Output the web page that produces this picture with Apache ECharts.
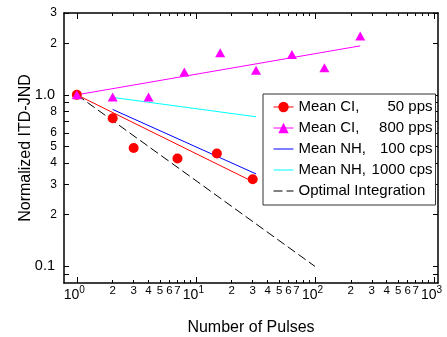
<!DOCTYPE html>
<html><head><meta charset="utf-8">
<script src="https://cdn.jsdelivr.net/npm/echarts@6/dist/echarts.min.js"></script>
<style>html,body{margin:0;padding:0;background:#fff}#c{width:447px;height:337px}</style>
</head><body><div id="c"></div>
<script>
// ---- data ----
const ci50X = [1, 2, 3, 7, 15, 30];
const ci50Y = [1.0, 0.73, 0.49, 0.425, 0.455, 0.322];
const ci800X = [1, 2, 4, 8, 16, 32, 64, 120, 240];
const ci800Y = [1.0, 0.973, 0.973, 1.36, 1.76, 1.39, 1.72, 1.44, 2.2];
const fit50X = [1, 30];
const fit50Y = [1.0, 0.312];
const fit800X = [1, 240];
const fit800Y = [1.0, 1.93];
const nh100X = [2, 32];
const nh100Y = [0.822, 0.346];
const nh1000X = [2, 32];
const nh1000Y = [0.966, 0.745];
const optX = [1, 100];
const optY = [1.0, 0.1];

const seriesNames = ['Mean CI, 50 pps', 'Mean CI, 800 pps', 'Mean NH, 100 cps', 'Mean NH, 1000 cps', 'Optimal Integration'];

const xMajorTicks = [1, 10, 100, 1000];
const xMinorTicks = [2, 3, 4, 5, 6, 7, 8, 9, 20, 30, 40, 50, 60, 70, 80, 90, 200, 300, 400, 500, 600, 700, 800, 900];
const xLabelValues = [1, 2, 3, 4, 5, 6, 7, 10, 20, 30, 40, 50, 60, 70, 100, 200, 300, 400, 500, 600, 700, 1000];
const xLabelTexts = ['10^0', '2', '3', '4', '5', '6', '7', '10^1', '2', '3', '4', '5', '6', '7', '10^2', '2', '3', '4', '5', '6', '7', '10^3'];
const yTickValues = [0.09, 0.1, 0.2, 0.3, 0.4, 0.5, 0.6, 0.7, 0.8, 0.9, 1, 2, 3];
const yLabelValues = [0.1, 0.2, 0.3, 0.4, 0.5, 0.6, 0.8, 1, 2, 3];
const yLabelTexts = ['0.1', '2', '3', '4', '5', '6', '8', '1.0', '2', '3'];

// ---- helpers ----
const FONT = '"Liberation Sans", Arial, Helvetica, sans-serif';
const zip = (xs, ys) => xs.map((x, i) => [x, ys[i]]);
const findIdx = (arr, v) => arr.findIndex(t => Math.abs(Math.log10(t) - Math.log10(v)) < 1e-6);

function xLabel(v) {
  const i = findIdx(xLabelValues, v);
  if (i < 0) return '';
  const t = xLabelTexts[i];
  if (t.indexOf('^') >= 0) {
    const p = t.split('^');
    return '{b|' + p[0] + '}{s|' + p[1] + '}';
  }
  return '{m|' + t + '}';
}
function yLabel(v) {
  const i = findIdx(yLabelValues, v);
  if (i < 0) return '';
  const t = yLabelTexts[i];
  return t.indexOf('.') >= 0 ? '{big|' + t + '}' : '{sm|' + t + '}';
}

const AXIS_LINE = { show: true, lineStyle: { color: '#000', width: 1.5 } };
const NO_LINE = { show: false };
const tick = (vals, len) => ({ show: true, inside: true, length: len, customValues: vals, lineStyle: { color: '#000', width: 1 } });
const XMIN = 0.78, XMAX = 1080, YMIN = 0.08, YMAX = 3;

const baseX = (pos, line, tk, label) => ({
  type: 'log', position: pos, min: XMIN, max: XMAX, gridIndex: 0,
  axisLine: line, axisTick: tk, splitLine: { show: false },
  axisLabel: label || { show: false }
});
const baseY = (pos, line, tk, label) => ({
  type: 'log', position: pos, min: YMIN, max: YMAX, gridIndex: 0,
  axisLine: line, axisTick: tk, splitLine: { show: false },
  axisLabel: label || { show: false }
});

const xMain = baseX('bottom', AXIS_LINE, tick(xMinorTicks, 3), {
  show: true, customValues: xLabelValues, interval: 0, margin: 2, formatter: xLabel,
  color: '#000', fontFamily: FONT,
  rich: {
    b: { fontSize: 14, lineHeight: 21, fontFamily: FONT, color: '#000' },
    s: { fontSize: 10, lineHeight: 11, verticalAlign: 'top', padding: [0, 5, 0, 0], fontFamily: FONT, color: '#000' },
    m: { fontSize: 11.5, lineHeight: 11, verticalAlign: 'top', fontFamily: FONT, color: '#000' }
  }
});
xMain.name = 'Number of Pulses';
xMain.nameLocation = 'middle';
xMain.nameGap = 37;
xMain.nameMoveOverlap = false;
xMain.nameTextStyle = { fontSize: 16, fontFamily: FONT, color: '#000' };

const yMain = baseY('left', AXIS_LINE, tick(yTickValues, 5), {
  show: true, customValues: yLabelValues, interval: 0, margin: 7, formatter: yLabel,
  color: '#000', fontFamily: FONT,
  rich: {
    big: { fontSize: 14.5, fontFamily: FONT, color: '#000', padding: [0, 2, 0, 0] },
    sm: { fontSize: 12, fontFamily: FONT, color: '#000' }
  }
});
yMain.name = 'Normalized ITD-JND';
yMain.nameLocation = 'middle';
yMain.nameGap = 30;
yMain.nameMoveOverlap = false;
yMain.nameTextStyle = { fontSize: 16, fontFamily: FONT, color: '#000' };

function legendFmt(name) {
  const k = name.indexOf(', ');
  if (k < 0) return '{c|' + name + '}';
  return '{a|' + name.slice(0, k + 1) + '}{b|' + name.slice(k + 2) + '}';
}

const lineSeries = (name, xs, ys, color, symbol, type) => ({
  name: name, type: 'line', xAxisIndex: 0, yAxisIndex: 0,
  data: zip(xs, ys), symbol: symbol, showSymbol: false, symbolSize: 10,
  itemStyle: { color: color },
  lineStyle: { color: color, width: 1, type: type || 'solid' },
  emphasis: { disabled: true }, silent: true, z: 2
});

const option = {
  animation: false,
  backgroundColor: '#fff',
  grid: { left: 64, right: 9, top: 13, bottom: 54, containLabel: false, outerBoundsMode: 'none' },
  xAxis: [
    xMain,
    baseX('bottom', NO_LINE, tick(xMajorTicks, 6)),
    baseX('top', AXIS_LINE, tick(xMinorTicks, 3)),
    baseX('top', NO_LINE, tick(xMajorTicks, 6))
  ],
  yAxis: [
    yMain,
    baseY('right', AXIS_LINE, tick(yTickValues, 5))
  ],
  legend: {
    orient: 'vertical', left: 263, top: 94,
    padding: [5, 3, 6, 10], itemGap: 5, itemWidth: 20, itemHeight: 13,
    backgroundColor: '#fff', borderColor: '#333', borderWidth: 1, borderRadius: 0,
    lineStyle: { width: 'inherit' },
    selectedMode: false,
    formatter: legendFmt,
    textStyle: {
      fontFamily: FONT, fontSize: 15, color: '#000', lineHeight: 16,
      rich: {
        a: { width: 64, fontSize: 15, lineHeight: 16, fontFamily: FONT, color: '#000' },
        b: { width: 70, align: 'right', fontSize: 15, lineHeight: 16, fontFamily: FONT, color: '#000' },
        c: { fontSize: 15, lineHeight: 16, fontFamily: FONT, color: '#000' }
      }
    },
    data: [
      { name: seriesNames[0] },
      { name: seriesNames[1] },
      { name: seriesNames[2], itemStyle: { opacity: 0 } },
      { name: seriesNames[3], itemStyle: { opacity: 0 } },
      { name: seriesNames[4], itemStyle: { opacity: 0 } }
    ]
  },
  series: [
    lineSeries(seriesNames[0], fit50X, fit50Y, '#ff0000', 'circle'),
    lineSeries(seriesNames[1], fit800X, fit800Y, '#ff00ff', 'triangle'),
    lineSeries(seriesNames[2], nh100X, nh100Y, '#0000ff', 'none'),
    lineSeries(seriesNames[3], nh1000X, nh1000Y, '#00ffff', 'none'),
    lineSeries(seriesNames[4], optX, optY, '#000000', 'none', [9, 4]),
    {
      name: seriesNames[0], type: 'scatter', xAxisIndex: 0, yAxisIndex: 0,
      data: zip(ci50X, ci50Y), symbol: 'circle', symbolSize: 10,
      itemStyle: { color: '#ff0000', opacity: 1 }, silent: true, z: 3
    },
    {
      name: seriesNames[1], type: 'scatter', xAxisIndex: 0, yAxisIndex: 0,
      data: zip(ci800X, ci800Y), symbol: 'triangle', symbolSize: [10, 9],
      itemStyle: { color: '#ff00ff', opacity: 1 }, silent: true, z: 4
    }
  ]
};

const chart = echarts.init(document.getElementById('c'), null, { renderer: 'canvas' });
chart.setOption(option);
</script>
</body></html>
